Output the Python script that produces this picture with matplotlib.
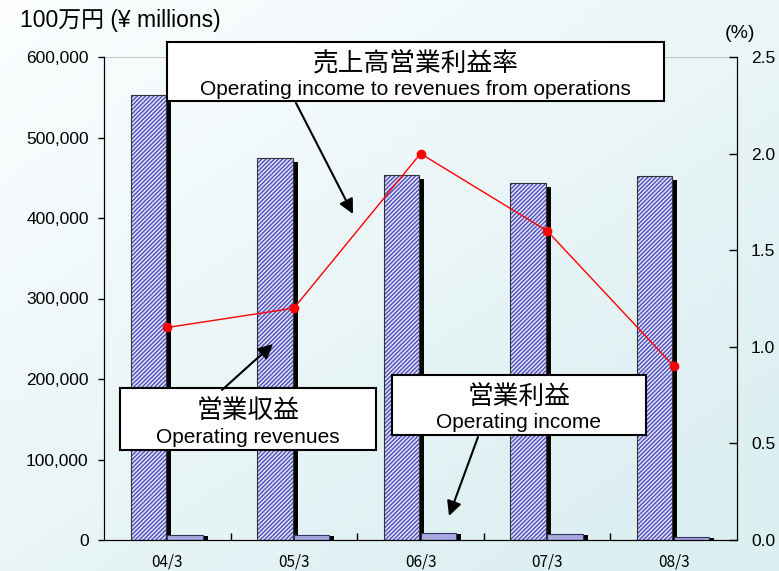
import numpy as np
import matplotlib.pyplot as plt
from matplotlib.patches import Rectangle, FancyArrowPatch

plt.rcParams['font.family'] = ['Liberation Sans', 'Noto Sans CJK JP', 'DejaVu Sans']
plt.rcParams['hatch.linewidth'] = 0.9

# データ
periods = ['04/3', '05/3', '06/3', '07/3', '08/3']
revenues = [553000, 474000, 454000, 444000, 452000]   # 営業収益
op_income = [6100, 5700, 9100, 7100, 4100]             # 営業利益
margin = [1.1, 1.2, 2.0, 1.6, 0.9]                     # 売上高営業利益率 (%)

W, H = 779, 571
fig = plt.figure(figsize=(W / 100, H / 100), dpi=100)

# 背景のグラデーション
bg = fig.add_axes([0, 0, 1, 1], zorder=-5)
gx, gy = np.meshgrid(np.linspace(0, 1, 200), np.linspace(0, 1, 200))
t = np.clip(0.55 * gx + 0.6 * gy, 0, 1)[..., None]
c0 = np.array([252, 254, 255]) / 255
c1 = np.array([220, 239, 241]) / 255
bg.imshow(c0 + (c1 - c0) * t, aspect='auto', extent=[0, 1, 0, 1], origin='upper')
bg.axis('off')


def px(x, y):
    return x / W, 1 - y / H


ax = fig.add_axes([104 / W, 31 / H, 633 / W, 483 / H])
ax.patch.set_alpha(0)
x = np.arange(len(periods))
bw = 0.28
dx = 0.04

# 影
ax.bar(x - 0.15 + dx, np.array(revenues) - 5000, bw, color='black', zorder=1)
ax.bar(x + 0.14 + dx, np.array(op_income) - 1200, bw, color='black', zorder=1)
# 営業収益 (斜線)
ax.bar(x - 0.15, revenues, bw, color='#dcdcf8', hatch='////////', edgecolor='#4646b4',
       linewidth=0, zorder=2)
ax.bar(x - 0.15, revenues, bw, fill=False, edgecolor='#333333', linewidth=0.8, zorder=3)
# 営業利益
ax.bar(x + 0.14, op_income, bw, color='#a8a8e0', edgecolor='#333366', linewidth=0.8, zorder=2)

ax.set_xlim(-0.5, len(periods) - 0.5)
ax.set_ylim(0, 600000)
ax.set_yticks(range(0, 600001, 100000))
ax.set_yticklabels([f'{v:,}' for v in range(0, 600001, 100000)], fontsize=12.5)
ax.tick_params(axis='y', direction='out', length=4, width=1, pad=7)
ax.set_xticks(x)
ax.set_xticklabels(periods, fontsize=11, family=['Noto Sans CJK JP'])
ax.tick_params(axis='x', length=0, pad=10)
ax.set_xticks(x[:-1] + 0.5, minor=True)
ax.tick_params(axis='x', which='minor', direction='in', length=5, width=1)
ax.spines['top'].set_color('#c8c8c8')
for s in ['left', 'right', 'bottom']:
    ax.spines[s].set_color('black')

# 売上高営業利益率
ax2 = ax.twinx()
ax2.plot(x, margin, color='red', lw=1, marker='o', markersize=6, zorder=5)
ax2.set_ylim(0, 2.5)
ax2.set_yticks(np.arange(0, 2.51, 0.5))
ax2.set_yticklabels([f'{v:.1f}' for v in np.arange(0, 2.51, 0.5)], fontsize=12.5)
ax2.tick_params(axis='y', direction='in', length=6, width=1, pad=10)
ax2.spines['top'].set_visible(False)

fig.text(*px(20, 20), '100万円 (¥ millions)', fontsize=16.5, va='center', ha='left')
fig.text(*px(740, 33), '(%)', fontsize=14, va='center', ha='center')

# 注釈ボックス
boxes = [
    ((167, 42, 664, 101), '売上高営業利益率', 'Operating income to revenues from operations',
     (296, 103), (353, 214)),
    ((120, 388, 376, 450), '営業収益', 'Operating revenues', (222, 390), (273, 344)),
    ((392, 375, 646, 435), '営業利益', 'Operating income', (478, 437), (449, 516)),
]
for (x0, y0, x1, y1), jp, en, a0, a1 in boxes:
    fig.patches.append(Rectangle(px(x0, y1), (x1 - x0) / W, (y1 - y0) / H,
                                 transform=fig.transFigure, facecolor='white',
                                 edgecolor='black', lw=1.5, zorder=10))
    cx = (x0 + x1) / 2
    h = y1 - y0
    fig.text(*px(cx, y0 + h * 0.37), jp, fontsize=18.5, ha='center', va='center', zorder=11)
    fig.text(*px(cx, y0 + h * 0.8), en, fontsize=15, ha='center', va='center', zorder=11)
    fig.patches.append(FancyArrowPatch(px(*a0), px(*a1), transform=fig.transFigure,
                                       arrowstyle='-|>', mutation_scale=22, lw=1.5,
                                       color='black', shrinkA=0, shrinkB=0, zorder=10))

fig.savefig('out.png', dpi=100)
